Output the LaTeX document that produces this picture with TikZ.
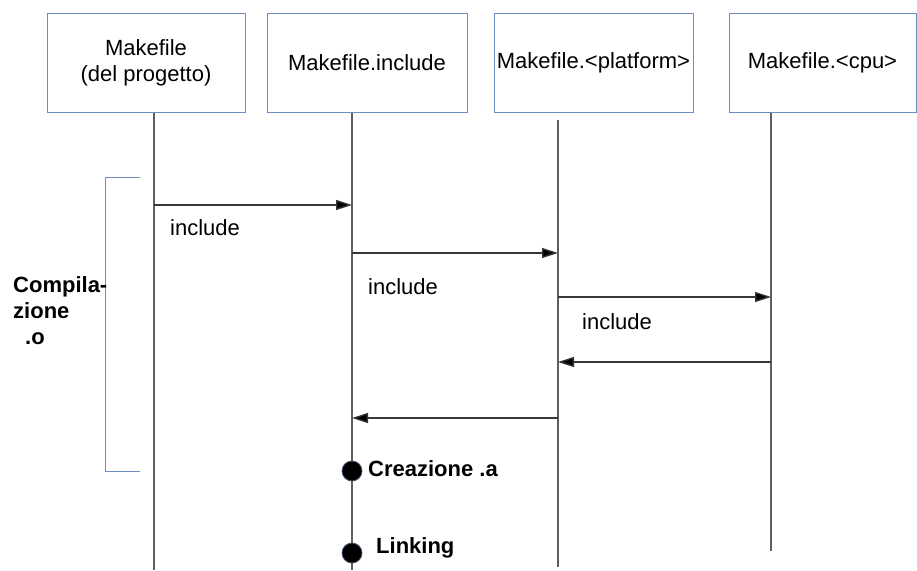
\documentclass[tikz,border=0pt]{standalone}
\usepackage{fontspec}
\setmainfont{Liberation Sans}
\usetikzlibrary{calc}
\usetikzlibrary{arrows.meta}
\definecolor{boxblue}{RGB}{108,142,191}
\definecolor{lifegray}{RGB}{95,95,95}
\definecolor{msggray}{RGB}{55,55,55}

\begin{document}
\begin{tikzpicture}[x=1pt,y=-1pt,
        actor/.style={draw=boxblue,line width=1pt,inner sep=0pt,minimum height=99pt,align=center,font=\fontsize{22}{26}\selectfont},
        life/.style={draw=lifegray,line width=1.4pt},
        msg/.style={draw=msggray,line width=1.3pt,-{Triangle[length=16pt,width=10pt,fill=black]}},
        lbl/.style={anchor=west,inner sep=0pt,font=\fontsize{22}{26}\selectfont},
        evt/.style={anchor=west,inner sep=0pt,font=\fontsize{22}{26}\selectfont\bfseries},
        dot/.style={circle,fill=black,draw=boxblue!60!black,line width=0.8pt,inner sep=0pt,minimum size=20pt}]
        \useasboundingbox (0,0) rectangle (917,570);

        % partecipanti
        \node[actor,minimum width=198pt] (mk) at (146,62.5) {Makefile\\(del progetto)};
        \node[actor,minimum width=200pt] (inc) at (367,62.5) {Makefile.include};
        \node[actor,minimum width=199pt] (plat) at (593.5,62.5) {Makefile.<platform>};
        \node[actor,minimum width=187pt] (cpu) at (822.5,62.5) {Makefile.<cpu>};

        % linee di vita
        \coordinate (mkEnd) at (154,570);
        \coordinate (incEnd) at (352,570);
        \coordinate (platTop) at (558,120);
        \coordinate (platEnd) at (558,567);
        \coordinate (cpuEnd) at (771,551);
        \draw[life] (mk.south -| mkEnd) -- (mkEnd);
        \draw[life] (inc.south -| incEnd) -- (incEnd);
        \draw[life] (platTop) -- (platEnd);
        \draw[life] (cpu.south -| cpuEnd) -- (cpuEnd);

        % messaggi
        \draw[msg] (mkEnd |- 0,205) -- (incEnd |- 0,205);
        \node[lbl] (inc1) at (170,228) {include};
        \draw[msg] (incEnd |- 0,253) -- (platEnd |- 0,253);
        \node[lbl] (inc2) at (368,287) {include};
        \draw[msg] (platEnd |- 0,297) -- (cpuEnd |- 0,297);
        \node[lbl] (inc3) at (582,322) {include};
        \draw[msg] (cpuEnd |- 0,362) -- (platEnd |- 0,362);
        \draw[msg] (platEnd |- 0,418) -- (incEnd |- 0,418);

        % fase di compilazione
        \draw[draw=boxblue,line width=1pt] (140,177) -- (105,177) -- (105,471) -- (140,471);
        \node[evt,align=left] (comp) at (13,311) {Compila-\\zione\\\hspace*{12pt}.o};

        % eventi finali
        \node[dot] (crea) at (352,471) {};
        \node[evt] (creaLbl) at (368,469) {Creazione .a};
        \node[dot] (link) at (352,553) {};
        \node[evt] (linkLbl) at (376,548) {Linking};
    \end{tikzpicture}
\end{document}
